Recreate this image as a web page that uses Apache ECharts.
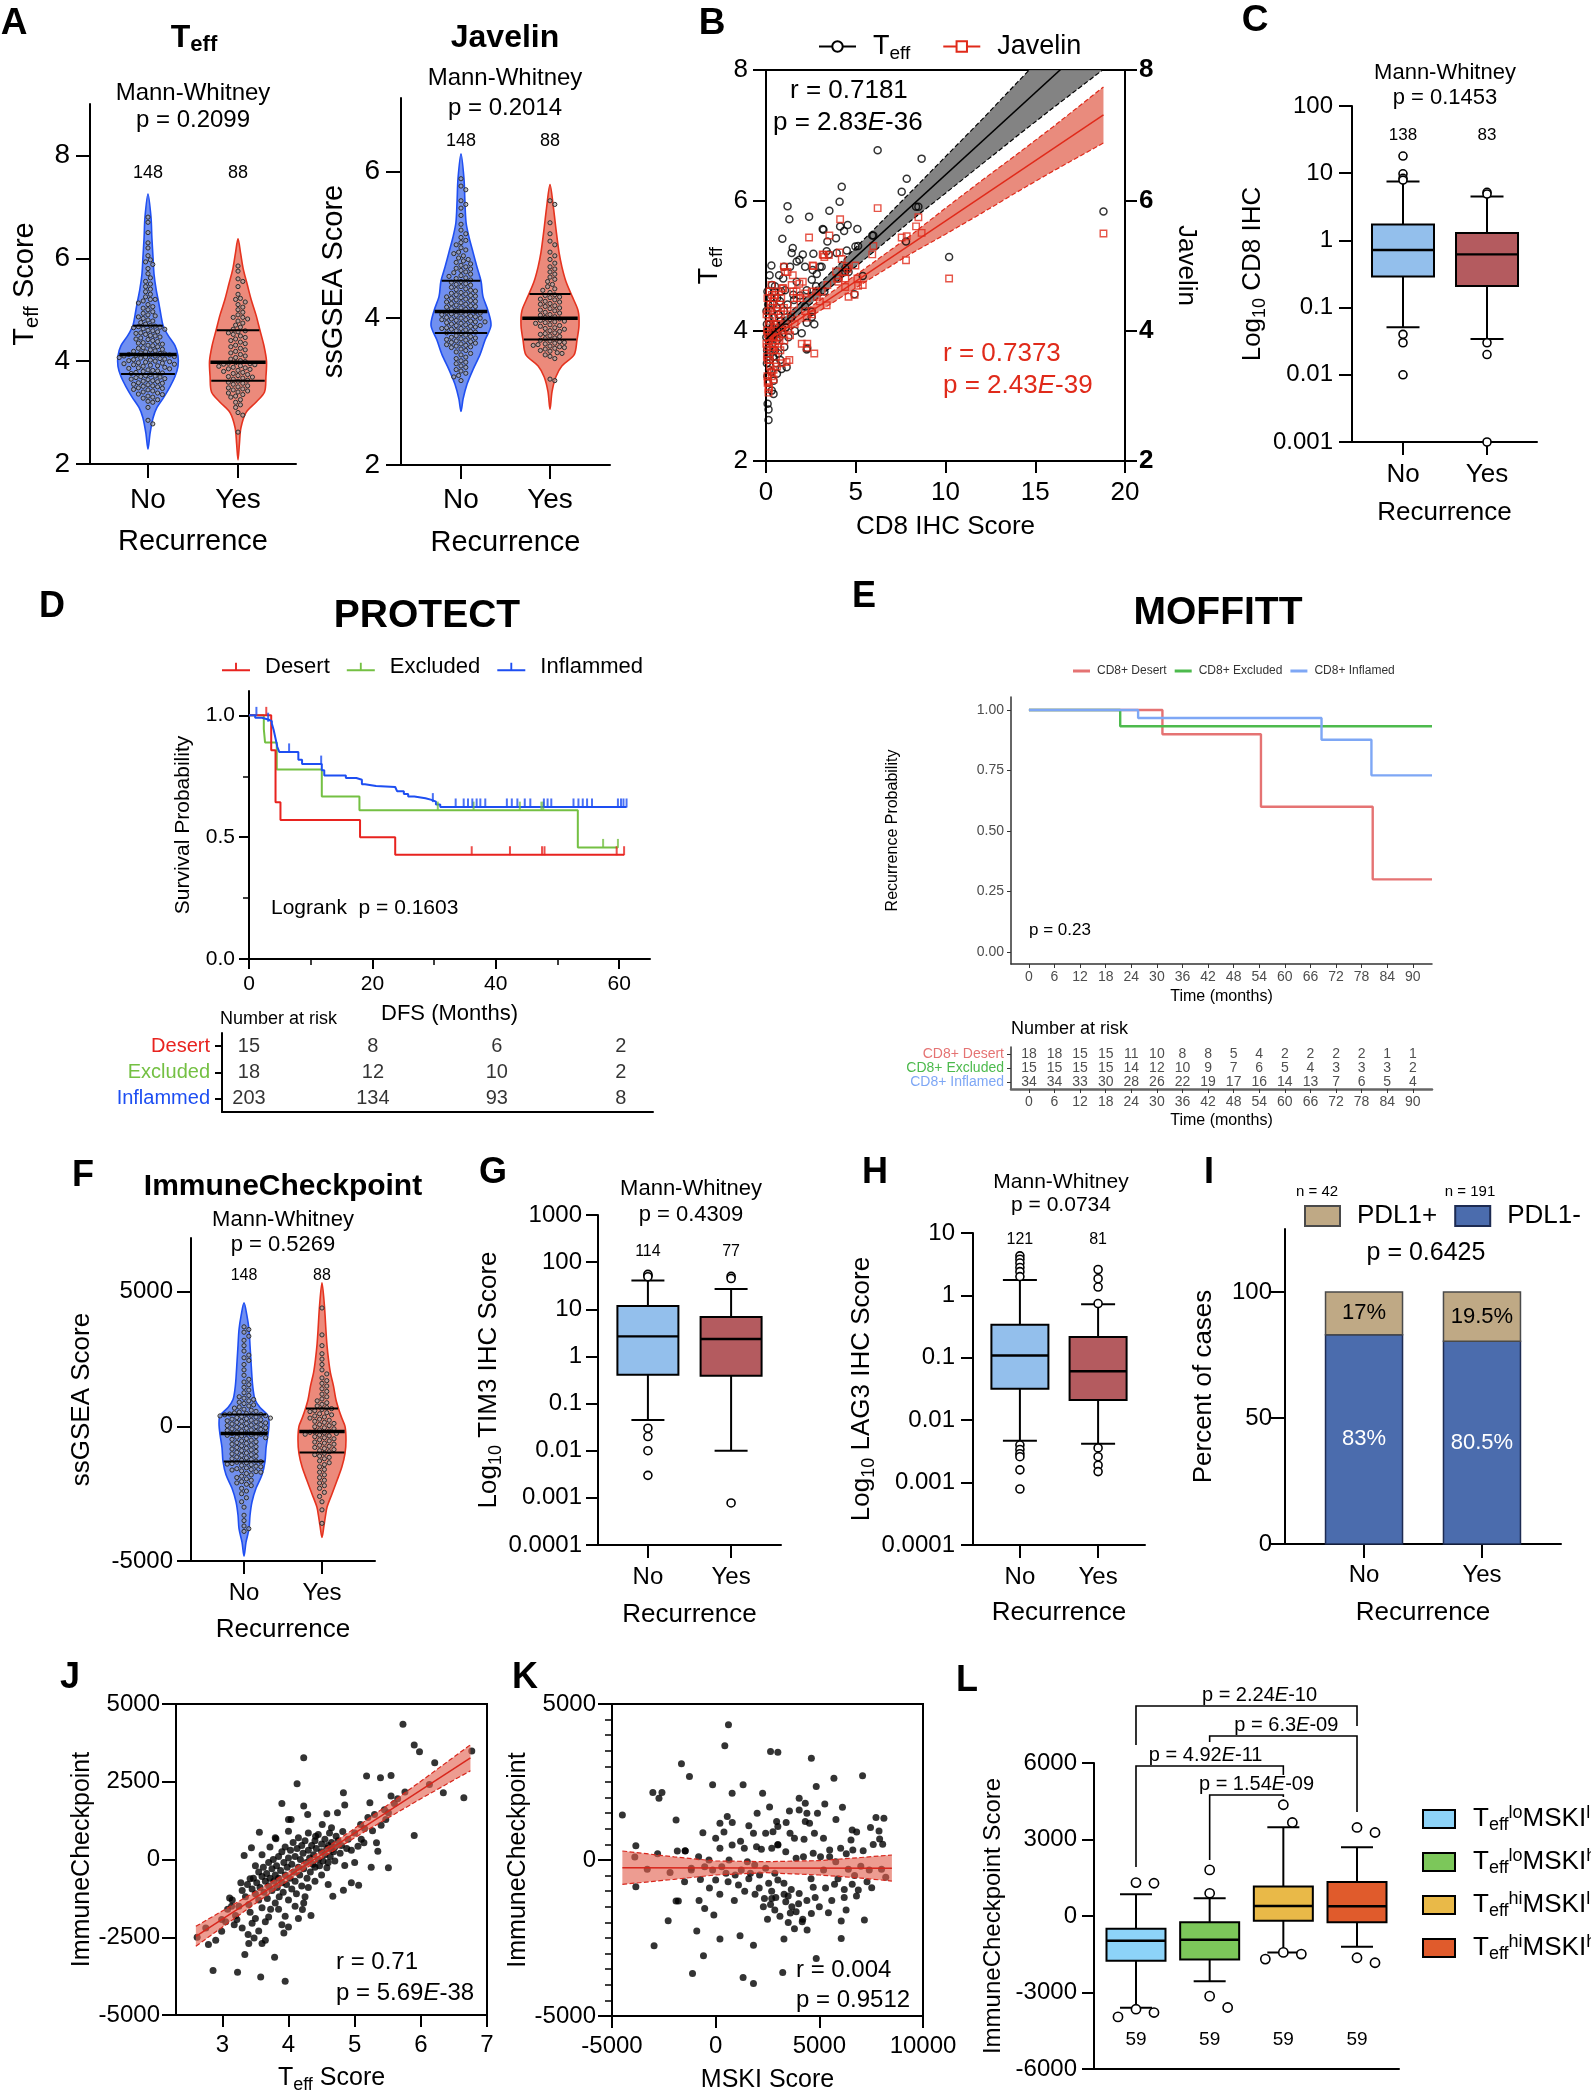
<!DOCTYPE html>
<html>
<head>
<meta charset="utf-8">
<title>Figure</title>
<script src="https://cdn.jsdelivr.net/npm/echarts@6.0.0/dist/echarts.min.js"></script>
<style>
html,body{margin:0;padding:0;background:#ffffff;}
#chart{width:1591px;height:2100px;}
</style>
</head>
<body>
<div id="chart"></div>
<script>
const FONT = '"Liberation Sans", Arial, Helvetica, sans-serif';

// ======================= DATA =======================
const recurrence = ['No', 'Yes'];

// ---- Panel A : Teff violins ----
const teffNo = [2.78,2.85,3.1,3.2,3.22,3.25,3.28,3.3,3.32,3.35,3.36,3.38,3.4,3.42,3.44,3.45,3.47,3.48,3.5,3.51,3.52,3.54,3.55,3.57,3.58,3.6,3.61,3.62,3.64,3.65,3.66,3.68,3.69,3.7,3.71,3.72,3.74,
3.76,3.77,3.78,3.8,3.81,3.82,3.83,3.85,3.86,3.87,3.88,3.9,3.91,3.92,3.93,3.94,3.95,3.96,3.97,3.98,3.99,4.0,4.01,4.02,4.03,4.04,4.05,4.06,4.07,4.08,4.09,4.1,4.1,4.11,4.12,4.12,4.13,
4.14,4.15,4.16,4.18,4.19,4.2,4.22,4.23,4.25,4.26,4.28,4.3,4.31,4.33,4.35,4.36,4.38,4.4,4.42,4.43,4.45,4.47,4.49,4.5,4.52,4.54,4.55,4.57,4.59,4.6,4.62,4.63,4.65,4.66,4.67,4.68,4.69,
4.72,4.75,4.78,4.8,4.83,4.86,4.88,4.9,4.93,4.96,5.0,5.03,5.06,5.1,5.13,5.17,5.2,5.2,5.25,5.3,5.35,5.4,5.45,5.5,5.55,5.62,5.7,5.8,5.88,5.93,5.97,6.05,6.2,6.3,6.5,6.7,6.8];
const teffYes = [2.62,2.95,3.0,3.1,3.15,3.2,3.25,3.3,3.32,3.35,3.38,3.4,3.42,3.44,3.46,3.48,3.5,3.52,3.55,3.57,3.59,3.61,
3.63,3.65,3.67,3.69,3.7,3.72,3.74,3.76,3.78,3.8,3.82,3.84,3.85,3.87,3.88,3.9,3.91,3.93,3.94,3.95,3.96,3.97,
3.99,4.01,4.04,4.07,4.1,4.13,4.16,4.19,4.22,4.25,4.28,4.31,4.34,4.37,4.4,4.43,4.46,4.49,4.52,4.55,4.57,4.59,
4.62,4.66,4.7,4.74,4.78,4.82,4.85,4.85,4.9,4.95,5.0,5.05,5.1,5.15,5.2,5.22,5.3,5.45,5.55,5.6,5.75,5.85];
const teffNoQuartiles = [3.75, 4.13, 4.69];
const teffYesQuartiles = [3.62, 3.98, 4.60];
const teffNoDensity = [[2.29,0],[2.6,0.07],[2.9,0.17],[3.1,0.3],[3.3,0.53],[3.5,0.73],[3.7,0.9],[3.9,1],[4.1,1],[4.3,0.9],[4.5,0.67],[4.7,0.5],[4.9,0.43],[5.1,0.37],[5.4,0.27],[5.7,0.2],[6.0,0.17],[6.4,0.13],[6.8,0.1],[7.25,0]];
const teffYesDensity = [[2.08,0],[2.4,0.05],[2.7,0.1],[3.0,0.28],[3.2,0.63],[3.4,0.93],[3.7,0.98],[4.0,1],[4.3,0.91],[4.6,0.77],[4.9,0.63],[5.2,0.46],[5.5,0.32],[5.8,0.18],[6.1,0.09],[6.38,0]];
const teffCounts = [148, 88];

// ---- Panel A : Javelin violins ----
const javNo = [3.15,3.2,3.22,3.25,3.28,3.3,3.33,3.35,3.38,3.4,3.42,3.45,3.47,3.5,3.52,3.54,3.56,3.58,3.6,3.61,3.62,3.63,3.64,3.65,3.66,3.67,3.68,3.69,3.7,3.71,3.72,3.73,3.74,3.75,3.76,3.77,3.79,
3.8,3.81,3.82,3.83,3.84,3.85,3.86,3.86,3.87,3.88,3.89,3.9,3.9,3.91,3.92,3.93,3.94,3.95,3.95,3.96,3.97,3.98,3.98,3.99,4.0,4.0,4.01,4.02,4.03,4.04,4.05,4.05,4.06,4.07,4.07,4.08,4.09,
4.1,4.11,4.12,4.13,4.14,4.15,4.16,4.17,4.18,4.19,4.2,4.21,4.22,4.23,4.24,4.25,4.26,4.27,4.28,4.29,4.3,4.31,4.32,4.33,4.34,4.35,4.37,4.38,4.39,4.4,4.42,4.43,4.45,4.46,4.47,4.49,4.5,
4.52,4.54,4.55,4.57,4.58,4.6,4.62,4.63,4.65,4.67,4.68,4.7,4.72,4.74,4.76,4.78,4.8,4.82,4.85,4.88,4.9,4.93,4.96,5.0,5.03,5.06,5.1,5.15,5.2,5.28,5.4,5.5,5.55,5.6,5.75,5.8,5.9];
const javYes = [3.15,3.17,3.45,3.48,3.5,3.52,3.53,3.55,3.56,3.58,3.59,3.6,3.61,3.62,3.63,3.64,3.65,3.66,3.67,3.68,3.69,3.7,
3.72,3.73,3.75,3.76,3.78,3.79,3.8,3.82,3.83,3.85,3.86,3.87,3.89,3.9,3.91,3.93,3.94,3.95,3.96,3.97,3.98,3.99,
4.01,4.02,4.04,4.05,4.07,4.08,4.1,4.11,4.13,4.14,4.16,4.17,4.19,4.2,4.22,4.23,4.25,4.26,4.28,4.29,4.31,4.32,
4.35,4.38,4.4,4.43,4.46,4.5,4.53,4.56,4.6,4.63,4.67,4.7,4.75,4.8,4.85,4.9,5.0,5.05,5.15,5.3,5.55,5.6];
const javNoQuartiles = [3.80, 4.09, 4.51];
const javYesQuartiles = [3.71, 4.00, 4.33];
const javNoDensity = [[2.73,0],[2.9,0.07],[3.1,0.2],[3.3,0.4],[3.5,0.63],[3.7,0.8],[3.9,1],[4.1,0.9],[4.3,0.73],[4.5,0.67],[4.7,0.53],[4.9,0.4],[5.1,0.27],[5.3,0.17],[5.6,0.13],[5.9,0.1],[6.24,0]];
const javYesDensity = [[2.76,0],[3.0,0.07],[3.2,0.2],[3.35,0.41],[3.5,0.83],[3.7,0.93],[3.9,1],[4.1,0.97],[4.3,0.76],[4.5,0.55],[4.7,0.41],[4.9,0.31],[5.2,0.21],[5.5,0.12],[5.82,0]];
const javCounts = [148, 88];

// ---- Panel B : [CD8 IHC score, Teff, Javelin] ----
const bPoints = [[0.02,3.9,3.8],[0.03,4.3,4.25],[0.05,3.5,3.6],[0.05,4.1,4.0],[0.06,3.7,3.75],[0.08,4.6,4.5],[0.08,3.3,3.3],[0.09,2.88,3.2],[0.1,4.0,3.95],[0.1,3.6,3.55],
[0.12,4.4,4.3],[0.12,3.2,3.23],[0.14,2.79,3.1],[0.14,2.63,3.05],[0.15,3.85,3.9],[0.15,4.2,4.1],[0.17,3.4,3.13],[0.18,3.95,3.85],[0.2,4.85,4.6],[0.2,3.75,3.55],
[0.22,4.1,4.15],[0.22,3.55,3.45],[0.25,4.5,4.4],[0.25,3.65,3.7],[0.28,3.9,3.98],[0.3,5.0,4.7],[0.3,4.3,4.35],[0.3,3.37,3.37],[0.32,3.08,3.3],[0.33,4.7,4.55],
[0.35,3.8,3.75],[0.35,4.05,4.2],[0.38,4.4,4.45],[0.4,3.6,3.7],[0.42,3.23,3.4],[0.42,3.03,3.25],[0.45,4.2,4.1],[0.45,3.95,3.9],[0.48,4.6,4.5],[0.5,4.68,4.55],
[0.5,3.7,3.8],[0.52,4.1,4.05],[0.55,3.5,3.6],[0.58,4.35,4.3],[0.6,3.85,3.9],[0.61,3.34,3.45],[0.62,4.5,4.35],[0.65,4.0,4.1],[0.68,3.65,3.75],[0.7,4.25,4.2],
[0.73,4.85,4.6],[0.75,3.9,3.85],[0.78,4.45,4.4],[0.8,3.55,3.7],[0.82,4.15,4.25],[0.85,4.6,4.5],[0.87,3.41,3.5],[0.9,3.95,4.0],[0.91,5.41,4.65],[0.96,4.8,4.65],
[1.0,4.3,4.35],[1.0,4.98,4.98],[1.02,3.75,3.85],[1.06,4.62,4.9],[1.1,4.05,4.1],[1.15,3.44,3.52],[1.2,5.91,4.9],[1.2,4.4,4.3],[1.25,3.9,4.0],[1.3,5.71,3.55],
[1.34,4.98,3.93],[1.4,4.2,4.25],[1.43,5.19,4.7],[1.49,5.27,4.85],[1.52,4.55,4.6],[1.56,4.47,4.4],[1.6,4.0,4.1],
[1.71,5.06,4.5],[1.71,4.75,4.6],[1.86,5.09,4.72],[1.9,4.54,4.5],[1.99,3.96,3.8],[2.05,5.17,4.75],[2.18,4.98,4.57],[2.18,4.37,4.3],[2.27,4.62,4.5],[2.27,4.12,4.2],
[2.27,3.71,3.74],[2.3,3.73,3.8],[2.4,5.75,5.43],[2.55,4.78,4.6],[2.55,4.29,4.3],[2.55,4.21,4.25],[2.6,4.93,5.0],[2.64,5.18,4.99],[2.69,4.1,3.65],[2.79,4.68,4.6],
[2.83,4.87,4.52],[3.0,4.98,4.45],[3.1,4.98,4.6],[3.16,5.56,5.17],[3.2,5.55,5.16],[3.25,4.6,5.13],[3.38,5.22,4.39],[3.42,5.37,4.7],[3.5,5.17,5.16],[3.53,5.84,5.46],
[3.9,5.42,4.91],[3.94,5.19,4.8],[4.03,4.8,4.75],[4.1,5.98,5.2],[4.13,5.6,5.71],[4.22,6.21,5.1],[4.35,5.53,4.9],[4.41,4.9,4.67],[4.42,4.96,4.8],[4.5,5.23,4.99],
[4.55,5.62,4.95],[4.6,4.9,4.52],[4.93,4.56,4.55],[4.98,5.29,5.0],[5.09,5.56,4.8],[5.13,5.3,4.69],[5.39,4.84,4.7],[5.92,5.46,5.17],[5.98,5.46,5.3],[6.22,6.77,5.88],
[7.56,6.13,5.43],[7.8,5.37,5.08],[7.84,6.33,5.45],[8.36,5.9,5.6],[8.49,5.9,5.74],[8.67,6.64,5.5],[10.2,5.13,4.8],[18.8,5.83,5.49]];
const bTeffFit = [[0,3.87],[18.8,8.61]];
const bTeffBand = [[0,3.80,3.94],[2,4.29,4.45],[4,4.76,5.0],[6,5.21,5.55],[8,5.67,6.11],[10,6.11,6.67],[12,6.55,7.23],[14,6.99,7.81],[16,7.42,8.38],[18.8,8.01,9.21]];
const bJavFit = [[0,3.83],[18.8,7.31]];
const bJavBand = [[0,3.77,3.89],[2,4.13,4.27],[4,4.48,4.66],[6,4.83,5.05],[8,5.17,5.45],[10,5.48,5.88],[12,5.8,6.3],[14,6.13,6.71],[16,6.45,7.13],[18.8,6.88,7.74]];
const bTeffStats = ['r = 0.7181', 'p = 2.83', '-36'];
const bJavStats = ['r = 0.7373', 'p = 2.43', '-39'];

// ---- Panel C : CD8 IHC boxplots [low, q1, median, q3, high] ----
const cBoxes = [[0.051,0.29,0.72,1.73,7.5],[0.034,0.21,0.62,1.29,4.5]];
const cOutliers = [[1,18],[1,9.8],[1,8.4],[1,7.9],[1,0.04],[1,0.03],[1,0.01],[2,5.2],[2,4.9],[2,0.03],[2,0.02],[2,0.001]];
const cCounts = [138, 83];

// ---- Panel D : PROTECT KM ----
const dGroups = ['Desert','Excluded','Inflammed'];
const dDesert = [[0,1],[3.6,0.857],[4.3,0.643],[5.1,0.571],[18.0,0.5],[23.7,0.428],[60.8,0.428]];
const dExcluded = [[0,1],[2.4,0.944],[2.6,0.889],[4.5,0.778],[11.8,0.667],[17.9,0.611],[53.3,0.458],[59.8,0.458]];
const dInflammed = [[0,1],[1.0,0.99],[2.1,0.983],[3.1,0.976],[3.7,0.966],[4.0,0.94],[4.3,0.905],[4.6,0.87],[4.9,0.85],[8.0,0.818],[8.6,0.8],[11.8,0.775],[12.2,0.753],[15.7,0.743],[17.4,0.736],[18.3,0.717],[18.8,0.71],[20.6,0.706],[23.7,0.7],[24.0,0.689],[25.1,0.677],[25.8,0.667],[26.8,0.66],[28.6,0.653],[29.6,0.646],[30.3,0.634],[31.0,0.624],[61.2,0.624]];
const dDesertCensor = [[2.8,1],[36.1,0.428],[42.3,0.428],[47.5,0.428],[47.9,0.428],[59.6,0.428],[60.8,0.428]];
const dExcludedCensor = [[30.6,0.611],[36.4,0.611],[43.9,0.611],[47.4,0.611],[47.7,0.611],[57.4,0.458],[59.8,0.458]];
const dInflammedCensor = [[1.2,1],[3.1,0.976],[6.5,0.85],[11.7,0.8],[29.8,0.646],[33.5,0.624],[34.8,0.624],[35.5,0.624],[36.2,0.624],[36.9,0.624],[37.5,0.624],[38.3,0.624],[41.8,0.624],[42.6,0.624],[43.5,0.624],[44.7,0.624],[45.6,0.624],[47.8,0.624],[48.4,0.624],[49.0,0.624],[52.6,0.624],[53.4,0.624],[54.1,0.624],[54.8,0.624],[55.6,0.624],[59.8,0.624],[60.3,0.624],[60.7,0.624],[61.2,0.624]];
const dRiskTimes = [0,20,40,60];
const dRisk = [[15,8,6,2],[18,12,10,2],[203,134,93,8]];

// ---- Panel E : MOFFITT KM ----
const eGroups = ['CD8+ Desert','CD8+ Excluded','CD8+ Inflamed'];
const eDesert = [[0,1],[31.3,0.9],[54.4,0.6],[80.6,0.3],[94.5,0.3]];
const eExcluded = [[0,1],[21.4,0.933],[94.5,0.933]];
const eInflamed = [[0,1],[25.6,0.967],[68.6,0.877],[80.3,0.73],[94.5,0.73]];
const eRiskTimes = [0,6,12,18,24,30,36,42,48,54,60,66,72,78,84,90];
const eRisk = [[18,18,15,15,11,10,8,8,5,4,2,2,2,2,1,1],
               [15,15,15,15,14,12,10,9,7,6,5,4,3,3,3,2],
               [34,34,33,30,28,26,22,19,17,16,14,13,7,6,5,4]];
const eYTicks = [0,0.25,0.5,0.75,1];

// ---- Panel F : ImmuneCheckpoint violins ----
const icNo = [-3900,-3800,-3700,-3500,-3300,-3000,-2800,-2650,-2500,-2400,-2300,-2200,-2150,-2100,-2050,-2000,-1950,-1900,-1850,-1800,-1750,-1700,-1680,-1650,-1620,-1600,-1570,-1540,-1500,-1480,-1450,-1420,-1400,-1380,-1350,-1330,-1310,
-1290,-1260,-1230,-1200,-1170,-1140,-1110,-1080,-1050,-1020,-990,-960,-930,-900,-870,-840,-810,-780,-750,-720,-690,-660,-630,-600,-570,-540,-510,-480,-450,-420,-400,-380,-350,-330,-310,-290,-270,
-250,-230,-210,-190,-170,-150,-130,-110,-90,-70,-50,-30,-10,10,30,50,70,90,110,130,150,170,190,210,230,250,270,290,310,330,350,370,390,400,415,430,445,
460,480,500,530,560,600,640,680,720,760,800,850,900,950,1000,1050,1100,1150,1250,1350,1450,1550,1650,1750,1900,2100,2300,2450,2550,2650,2800,3000,3200,3350,3500,3600,3700];
const icYes = [-3600,-3100,-2800,-2600,-2450,-2300,-2200,-2100,-2000,-1900,-1800,-1700,-1600,-1500,-1420,-1350,-1280,-1200,-1150,-1100,-1050,-1000,
-940,-900,-860,-820,-780,-740,-700,-660,-620,-580,-540,-500,-460,-420,-380,-350,-320,-290,-260,-240,-220,-200,
-170,-130,-90,-50,-10,30,70,110,150,190,230,270,310,350,390,430,470,510,550,590,630,660,
700,760,820,880,950,1020,1100,1200,1300,1400,1500,1600,1700,1800,1950,2100,2300,2500,2700,3000,3400,4400];
const icNoQuartiles = [-1301, -260, 446];
const icYesQuartiles = [-967, -186, 669];
const icNoDensity = [[-4814,0],[-4300,0.08],[-3800,0.2],[-3300,0.24],[-2800,0.32],[-2300,0.48],[-1800,0.72],[-1300,0.84],[-800,0.88],[-300,0.96],[100,1],[400,0.96],[700,0.64],[1000,0.44],[1400,0.36],[1800,0.32],[2400,0.28],[3000,0.24],[3600,0.2],[4100,0.12],[4591,0]];
const icYesDensity = [[-4126,0],[-3700,0.08],[-3300,0.15],[-3000,0.21],[-2500,0.42],[-2000,0.63],[-1500,0.83],[-1000,0.96],[-500,1],[0,0.96],[300,0.83],[600,0.71],[1000,0.58],[1500,0.48],[2000,0.35],[2500,0.27],[3000,0.21],[3500,0.17],[4500,0.1],[5335,0]];
const icCounts = [148, 88];

// ---- Panel G : TIM3 ----
const gBoxes = [[0.045,0.41,2.66,11.8,40.7],[0.01,0.39,2.34,6.9,27]];
const gOutliers = [[1,52],[1,55],[1,49],[1,0.03],[1,0.02],[1,0.01],[1,0.003],[2,50],[2,45],[2,0.00078]];
const gCounts = [114, 77];

// ---- Panel H : LAG3 ----
const hBoxes = [[0.0047,0.032,0.109,0.34,1.76],[0.0042,0.021,0.061,0.215,0.72]];
const hOutliers = [[1,4.3],[1,3.8],[1,3.3],[1,2.8],[1,2.4],[1,2.0],[1,0.0040],[1,0.0034],[1,0.0029],[1,0.0026],[1,0.0016],[1,0.00079],
                   [2,2.6],[2,1.85],[2,1.36],[2,0.74],[2,0.0036],[2,0.0026],[2,0.0019],[2,0.0015]];
const hCounts = [121, 81];

// ---- Panel I : PDL1 ----
const pdl1Pos = [17, 19.5];
const pdl1Neg = [83, 80.5];
const pdl1N = ['n = 42', 'n = 191'];

// ---- Panel J : [Teff score, ImmuneCheckpoint] ----
const jPoints = [[5.73,4345],[5.9,3680],[5.98,3466],[6.21,3112],[6.77,3487],[6.65,1985],[6.34,2146],[6.13,2414],[5.9,773],[5.18,2682],[5.39,2629],[5.55,2704],[4.23,3272],[4.13,2436],[3.9,1802],[4.0,1288],[4.83,2146],[4.85,1749],[4.23,1717],[4.29,1449],[4.58,1470],[4.74,1502],[3.56,880],[3.44,375],[3.33,129],[3.81,665],[4.0,912],[4.04,1288],
[2.62,-2500],[2.79,-2736],[2.86,-3573],[3.23,-3627],[3.58,-3777],[3.95,-3916],[3.79,-3144],[3.34,-3058],[3.6,-2704],[3.48,-2521],[3.39,-2414],[3.22,-1931],[3.14,-1502],[2.99,-2307],[2.99,-1931],[3.11,-1234],[3.28,-751],[3.42,-622],[3.93,-2360],[4.0,-2167],[3.95,-1824],[4.34,-1803],[4.21,-1609],[4.23,-1395],[4.67,-1180],[4.83,-987],[4.95,-751],[5.06,-826],[5.25,-247],[5.51,-268],[4.85,-193],[4.58,-268],[4.65,322],[4.72,751],[5.05,429],[5.14,536],[5.33,536],[5.35,268],[5.09,1127],[5.27,923],[5.47,1288],[5.51,1502],[5.23,1824],[5.55,2039],[5.65,1953],[5.76,2167],[4.51,1127],[4.41,751],[4.65,1019],
[3.3,-1000],[3.35,-1200],[3.38,-800],[3.4,-1450],[3.42,-1700],[3.45,-950],[3.47,-600],[3.5,-1100],[3.5,-1900],[3.52,-750],[3.55,-400],[3.55,-1300],[3.57,-900],[3.6,-550],[3.6,-1550],[3.62,-250],[3.63,-1050],[3.65,-700],[3.65,-2000],[3.67,-450],[3.68,-1250],[3.7,-100],[3.7,-850],[3.72,-600],[3.73,-1600],[3.75,-300],[3.75,-1000],[3.77,0],[3.78,-700],[3.8,-500],[3.8,-1400],[3.82,-200],[3.83,-900],[3.85,100],[3.85,-600],[3.86,-1200],[3.88,-350],[3.9,-750],[3.9,250],[3.92,-1050],[3.93,-100],[3.95,-500],[3.95,400],[3.97,-800],[3.98,-250],[4.0,50],[4.0,-1300],[4.02,-600],[4.03,300],[4.05,-150],[4.05,-950],[4.07,550],[4.08,-400],[4.1,100],[4.1,-700],[4.12,-1100],[4.13,350],[4.15,-250],[4.15,700],[4.17,-500],[4.18,0],[4.2,-850],[4.2,450],[4.22,200],[4.23,-300],[4.25,600],[4.27,-100],[4.28,-600],[4.3,300],[4.3,850],[4.32,50],[4.33,-400],[4.35,450],[4.37,-150],[4.38,150],[4.4,600],[4.4,-250],[4.42,350],[4.45,0],[4.45,800],[4.47,-200],[4.5,250],[4.5,500],[4.52,-50],[4.55,650],[4.55,150],[4.58,350],[4.6,-100],[4.6,450],[4.62,850],[4.63,100],[4.65,550],[4.68,250],[4.7,400],[4.7,-50],[4.75,600],[4.78,200],[4.8,450],[4.82,900],[4.88,350],[4.9,650],[4.95,300],[5.0,850],[5.0,-100],[5.1,650],[5.15,1000],[5.2,1350],[5.3,1450],[5.4,1100],[5.45,1600],[5.6,1800],
[3.25,-1500],[3.2,-1800],[3.18,-2100],[3.3,-2200],[3.4,-2700],[3.15,-1300],[3.08,-1600],[3.05,-2000],[3.45,-2050],[3.55,-2300],[3.7,-1850],[3.85,-1600],[3.9,-2100],[4.1,-1500],[4.15,-1900],[4.25,-1200],[4.3,-900],[4.4,-700],[4.5,-500],[4.6,-800],[3.5,-200],[3.6,150],[3.72,400],[3.8,700],[3.65,-2600],[2.75,-2200],[2.9,-2600]];
const jFit = [[2.6,-2468],[6.75,3271]];
const jBand = [[2.6,-2788,-2148],[3.0,-2175,-1655],[3.5,-1413,-1033],[4.0,-672,-392],[4.3,-237,3],[4.6,178,418],[5.0,701,1001],[5.5,1333,1753],[6.0,1954,2514],[6.5,2556,3296],[6.75,2851,3691]];
const jStats = ['r = 0.71', 'p = 5.69', '-38'];
const jXTicks = [3,4,5,6,7];

// ---- Panel K : [MSKI score, ImmuneCheckpoint] ----
const kPoints = [[-4500,1445],[-3850,460],[-3850,-856],[-3030,2161],[-2735,1980],[-2590,2161],[-2970,-2750],[-2290,-1947],[-1910,1284],[-1910,-1316],[-1800,-1316],[-1650,3082],[-1265,2675],[-1850,289],[-1470,289],[-1176,-268],[-1117,-3638],[-911,-2279],[-735,-621],[-617,877],[-588,-3071],[-530,-1552],[-147,2408],[-88,-1766],[206,1177],[206,-2536],[441,3659],[559,1391],[617,4333],[794,2140],[1323,2408],[1323,-3766],[1823,-3959],[1176,-2429],[1823,-2729],[2352,-1231],[2264,2140],[2646,3478],[2999,3456],[2940,1230],[3234,-3606],[3293,-2536],[4028,1980],[4322,1819],[4616,3264],[4851,2354],[4851,-3157],[4763,856],[5263,1798],[4910,1498],[5704,2622],[5498,321],[6115,1691],[6056,-2515],[6585,963],[7085,2697],[7173,-1926],[7467,1038],[7732,1359],[7879,931],[7908,674],[8114,1338],[8055,503],[8202,-556],[7526,-888],[6879,-963],[6585,-781],[6203,-942],[6291,-1605],[6791,-1156],[6056,-1958],[5733,-781],[5439,-1691],[5204,-321],[5057,107],[4704,214],[4704,-877],[4616,-1712],[4410,-2247],[4175,-1980],[3881,-1659],[4028,-1070],[3646,-942],[3293,-749],[3499,-1156],[3675,-1498],[3381,-1338],[2999,-642],[2705,-1231],[2852,-428],[2411,-268],[2117,-482],[2558,-749],[2646,-1423],[2852,-1605],[1676,-428],[1882,-160],[1529,-54],[1235,-321],[941,-482],[500,-428],[647,0],[294,-214],[0,-642],[-147,-321],[-323,0],[-530,-214],[-823,107],[-1176,-321],[-1470,300],[206,375],[794,482],[1382,375],[1970,428],[2205,342],[2705,375],[2999,482],[3381,268],[3881,54],[4234,107],[5498,107],[5792,-54],[6027,375],[6527,642],[6615,321],[7114,300],[7408,-321],[1823,856],[2411,856],[2764,909],[3587,856],[2999,1070],[4263,663],[4322,1230],[3558,1573],[4028,1605],[4528,1177],
[-300,-900],[200,-1100],[600,-700],[900,-1300],[1100,-800],[1400,-1000],[1600,-600],[1900,-1100],[2100,-900],[2300,-1500],[2500,-1900],[2700,-1000],[2900,-1200],[3100,-1800],[3300,-1100],[3500,-2000],[3600,-1700],[3800,-2200],[4000,-1400],[4200,-1900],[4400,-1300],[4600,-600],[4800,-1200],[5000,-1500],[5300,-900],[5600,-1300],[5900,-600],[6200,-1200],[6400,-300],[6700,-500],[7000,-200],[7300,-700],[-800,-1300],[-1500,-700],[-2200,-400],[-2800,200],[-3300,-300],[-3900,100],[0,700],[400,900],[800,1200],[1200,600],[1600,1100],[2000,1500],[2600,1700],[3000,500],[3400,1200],[3800,700],[4400,1500],[5200,700],[5800,1300],[6300,200],[6800,900],[7600,500],[8000,-300]];
const kFit = [[-4500,-246],[8500,-268]];
const kBand = [[-4500,-781,289],[-2000,-620,100],[0,-480,-30],[2400,-407,-54],[5000,-480,-20],[7000,-580,80],[8500,-675,161]];
const kStats = ['r = 0.004', 'p = 0.9512'];

// ---- Panel L : ImmuneCheckpoint by group ----
const lGroups = ['Teff lo MSKI lo','Teff lo MSKI hi','Teff hi MSKI lo','Teff hi MSKI hi'];
const lBoxes = [[-3600,-1755,-969,-498,852],[-2555,-1703,-930,-249,694],[-1428,-183,393,1153,3485],[-1205,-249,380,1336,2699]];
const lOutliers = [[1310,1284,-3956,-3655,-3786],[1808,891,-3144,-3589],[4362,3668,-1428,-1690,-1493],[3275,3472,-1834,-1638]];
const lCounts = [59,59,59,59];
const lComparisons = [[1,4,'p = 2.24','-10'],[2,4,'p = 6.3','-09'],[1,3,'p = 4.92','-11'],[2,3,'p = 1.54','-09']];

// ======================= HELPERS =======================
const option = {animation:false, backgroundColor:'#ffffff', textStyle:{fontFamily:FONT},
  grid:[], xAxis:[], yAxis:[], series:[], legend:[], graphic:[]};

function merge(a, b) {
  for (const k in b) {
    const bv = b[k];
    if (bv && typeof bv === 'object' && !Array.isArray(bv) && a[k] && typeof a[k] === 'object' && !Array.isArray(a[k])) {
      a[k] = merge(Object.assign({}, a[k]), bv);
    } else a[k] = bv;
  }
  return a;
}
function G(left, top, width, height, extra) {
  option.grid.push(Object.assign({left, top, width, height, containLabel:false, outerBoundsMode:'none'}, extra || {}));
  return option.grid.length - 1;
}
function axisBase() {
  return {type:'value',
    axisLine:{show:true, onZero:false, lineStyle:{color:'#000', width:2}},
    axisTick:{show:true, length:13, lineStyle:{color:'#000', width:2}},
    axisLabel:{show:true, color:'#000', fontFamily:FONT, fontSize:24, margin:16},
    splitLine:{show:false}, minorSplitLine:{show:false},
    nameLocation:'middle', nameTextStyle:{color:'#000', fontFamily:FONT, fontSize:26}};
}
function finishAxis(ax) {
  if (ax.type === 'value' && !ax.axisLabel.formatter) ax.axisLabel.formatter = v => String(+v);
  return ax;
}
function X(o) { option.xAxis.push(finishAxis(merge(axisBase(), o))); return option.xAxis.length - 1; }
function Y(o) { option.yAxis.push(finishAxis(merge(axisBase(), o))); return option.yAxis.length - 1; }
function catX(grid, min, max, cats, o) {
  const vals = cats.map((c, i) => i + 1);
  return X(merge({gridIndex:grid, min, max,
    axisLabel:{customValues:vals, formatter:v => cats[Math.round(v) - 1]},
    axisTick:{customValues:vals}}, o || {}));
}
function logFmt(v) { return v >= 1 ? String(Math.round(v)) : String(+(+v).toPrecision(1)); }
function subRich(big, small, weight) {
  return {a:{fontSize:big, fontFamily:FONT, fontWeight:weight || 'normal', color:'#000', fill:'#000', lineHeight:big + 6},
          s:{fontSize:small, fontFamily:FONT, fontWeight:weight || 'normal', color:'#000', fill:'#000', lineHeight:12, verticalAlign:'bottom'}};
}
function T(x, y, text, o) {
  const st = Object.assign({text, fill:'#000', fontFamily:FONT, fontSize:22, fontWeight:'normal', align:'center', verticalAlign:'middle'}, o || {});
  st.textAlign = st.align; st.textVerticalAlign = st.verticalAlign;
  option.graphic.push({type:'text', x, y, silent:true, z:100, style:st});
}
function pRich(size, color) {
  return {n:{fontSize:size, fontFamily:FONT, fill:color, color:color},
          i:{fontSize:size, fontFamily:FONT, fontStyle:'italic', fill:color, color:color}};
}
function interpW(dens, v) {
  for (let i = 1; i < dens.length; i++) {
    if (v <= dens[i][0]) { const a = dens[i-1], b = dens[i]; return a[1] + (b[1] - a[1]) * (v - a[0]) / (b[0] - a[0]); }
  }
  return 0;
}
function swarm(ys, d) {
  const order = ys.map((y, i) => [y, i]).sort((a, b) => a[0] - b[0]);
  const placed = []; const out = new Array(ys.length);
  for (const [y, i] of order) {
    let best = 0;
    for (let k = 0; k < 400; k++) {
      const off = k === 0 ? 0 : (k % 2 ? 1 : -1) * Math.ceil(k / 2) * d * 0.5;
      let ok = true;
      for (let j = placed.length - 1; j >= 0; j--) {
        const p = placed[j];
        if (y - p[1] >= d) break;
        const dx = off - p[0], dy = y - p[1];
        if (dx * dx + dy * dy < d * d * 0.98) { ok = false; break; }
      }
      if (ok) { best = off; break; }
    }
    placed.push([best, y]); out[i] = best;
  }
  return out;
}
function violin(xi, yi, cat, dens, quarts, pts, maxHW, fill, stroke) {
  option.series.push({type:'custom', xAxisIndex:xi, yAxisIndex:yi, silent:true, clip:false, z:3,
    data:[[cat, quarts[1]]],
    renderItem(params, api) {
      const cx = api.coord([cat, dens[0][0]])[0];
      const R = dens.map(d => [cx + d[1] * maxHW, api.coord([cat, d[0]])[1]]);
      const Lf = dens.slice(1, dens.length - 1).reverse().map(d => [cx - d[1] * maxHW, api.coord([cat, d[0]])[1]]);
      const kids = [{type:'polygon', shape:{points:R.concat(Lf), smooth:0.3}, style:{fill, stroke, lineWidth:1.6}}];
      const ys = pts.map(v => api.coord([cat, v])[1]);
      const offs = swarm(ys, 4.8);
      ys.forEach((y, i) => kids.push({type:'circle', shape:{cx:cx + offs[i], cy:y, r:2.1},
        style:{fill:'rgba(165,165,165,0.6)', stroke:'#2e2e2e', lineWidth:1}}));
      quarts.forEach((q, k) => {
        const w = interpW(dens, q) * maxHW * 0.97;
        const y = api.coord([cat, q])[1];
        kids.push({type:'line', shape:{x1:cx - w, y1:y, x2:cx + w, y2:y}, style:{stroke:'#000', lineWidth:k === 1 ? 3.5 : 2}});
      });
      return {type:'group', children:kids};
    }});
}
function boxes(xi, yi, items, fills, boxW, capW, name) {
  const s = {type:'custom', xAxisIndex:xi, yAxisIndex:yi, clip:false, silent:true, z:3,
    itemStyle:{color:fills[0], borderColor:'#000', borderWidth:1.5},
    data:items,
    renderItem(params, api) {
      const c = api.value(0);
      const p = [1,2,3,4,5].map(k => api.coord([c, api.value(k)]));
      const x = p[0][0];
      const fill = fills[params.dataIndex % fills.length];
      const ls = {stroke:'#000', lineWidth:2};
      return {type:'group', children:[
        {type:'line', shape:{x1:x, y1:p[4][1], x2:x, y2:p[3][1]}, style:ls},
        {type:'line', shape:{x1:x, y1:p[1][1], x2:x, y2:p[0][1]}, style:ls},
        {type:'line', shape:{x1:x - capW / 2, y1:p[4][1], x2:x + capW / 2, y2:p[4][1]}, style:ls},
        {type:'line', shape:{x1:x - capW / 2, y1:p[0][1], x2:x + capW / 2, y2:p[0][1]}, style:ls},
        {type:'rect', shape:{x:x - boxW / 2, y:p[3][1], width:boxW, height:p[1][1] - p[3][1]}, style:{fill, stroke:'#000', lineWidth:2}},
        {type:'line', shape:{x1:x - boxW / 2, y1:p[2][1], x2:x + boxW / 2, y2:p[2][1]}, style:{stroke:'#000', lineWidth:2.4}}
      ]};
    }};
  if (name) s.name = name;
  option.series.push(s);
}
function outliers(xi, yi, pts, size) {
  option.series.push({type:'scatter', xAxisIndex:xi, yAxisIndex:yi, silent:true, z:5, data:pts,
    symbol:'circle', symbolSize:size, itemStyle:{color:'#fff', borderColor:'#000', borderWidth:1.6, opacity:1}});
}
function counts(xi, yi, ns, yPx, size) {
  option.series.push({type:'custom', xAxisIndex:xi, yAxisIndex:yi, clip:false, silent:true, z:10,
    data:ns.map((n, i) => [i + 1, n]),
    renderItem(params, api) {
      const x = api.coord([api.value(0), api.value(1)])[0];
      return {type:'text', x, y:yPx, style:{text:String(api.value(1)), fontSize:size, fontFamily:FONT, fill:'#000',
        align:'center', verticalAlign:'middle', textAlign:'center', textVerticalAlign:'middle'}};
    }});
}
function band(xi, yi, rows, fill, z) {
  option.series.push({type:'custom', xAxisIndex:xi, yAxisIndex:yi, clip:true, silent:true, z:z || 2,
    data:[[rows[0][0], rows[0][1]]],
    renderItem(params, api) {
      const up = rows.map(r => api.coord([r[0], r[2]]));
      const lo = rows.slice().reverse().map(r => api.coord([r[0], r[1]]));
      return {type:'polygon', shape:{points:up.concat(lo)}, style:{fill, stroke:null}};
    }});
}
function lineS(xi, yi, data, color, width, type, extra) {
  option.series.push(Object.assign({type:'line', xAxisIndex:xi, yAxisIndex:yi, data, symbol:'none', silent:true,
    lineStyle:{color, width, type:type || 'solid'}, itemStyle:{color}, z:4}, extra || {}));
}
function stackBars(xi, yi, name, vals, bases, color, border, labelColor, barW) {
  option.series.push({type:'custom', name, xAxisIndex:xi, yAxisIndex:yi, clip:false, silent:true, z:3,
    itemStyle:{color, borderColor:border, borderWidth:1.5},
    data:vals.map((v, i) => [i + 1, bases[i], v]),
    renderItem(params, api) {
      const c = api.value(0), b = api.value(1), v = api.value(2);
      const p0 = api.coord([c, b]), p1 = api.coord([c, b + v]);
      return {type:'group', children:[
        {type:'rect', shape:{x:p0[0] - barW / 2, y:p1[1], width:barW, height:p0[1] - p1[1]}, style:{fill:color, stroke:border, lineWidth:1.5}},
        {type:'text', x:p0[0], y:(p0[1] + p1[1]) / 2, style:{text:v + '%', fontSize:22, fontFamily:FONT, fill:labelColor,
          align:'center', verticalAlign:'middle', textAlign:'center', textVerticalAlign:'middle'}}
      ]};
    }});
}

const blueFill = '#7190f0', blueStroke = '#1f4ff2', redFill = '#ec8a7b', redStroke = '#e5331f';

// ======================= PANEL A (Teff) =======================
T(14, 24, 'A', {fontSize:37, fontWeight:'bold'});
T(194, 38, '{a|T}{s|eff}', {rich:{a:{fontSize:32, fontWeight:'bold', fontFamily:FONT, fill:'#000', lineHeight:36}, s:{fontSize:22, fontWeight:'bold', fontFamily:FONT, fill:'#000', lineHeight:14, verticalAlign:'bottom'}}});
T(193, 93, 'Mann-Whitney', {fontSize:24});
T(193, 120, 'p = 0.2099', {fontSize:24});
const gA1 = G(90, 104, 206, 360);
const xA1 = catX(gA1, 0.356, 2.644, recurrence, {axisLabel:{fontSize:28, margin:22}, axisTick:{length:14},
  name:'Recurrence', nameGap:63, nameTextStyle:{fontSize:29}});
const yA1 = Y({gridIndex:gA1, min:2, max:9, axisLabel:{customValues:[2,4,6,8], fontSize:28, margin:20}, axisTick:{customValues:[2,4,6,8], length:14},
  name:'{a|T}{s|eff}{a| Score}', nameGap:48, nameTextStyle:{rich:subRich(29, 20)}});
violin(xA1, yA1, 1, teffNoDensity, teffNoQuartiles, teffNo, 30, blueFill, blueStroke);
violin(xA1, yA1, 2, teffYesDensity, teffYesQuartiles, teffYes, 28.5, redFill, redStroke);
counts(xA1, yA1, teffCounts, 173, 18);

// ======================= PANEL A (Javelin) =======================
T(505, 38, 'Javelin', {fontSize:32, fontWeight:'bold'});
T(505, 78, 'Mann-Whitney', {fontSize:24});
T(505, 108, 'p = 0.2014', {fontSize:24});
const gA2 = G(401, 98, 209, 367);
const xA2 = catX(gA2, 0.326, 2.674, recurrence, {axisLabel:{fontSize:28, margin:21}, axisTick:{length:14},
  name:'Recurrence', nameGap:63, nameTextStyle:{fontSize:29}});
const yA2 = Y({gridIndex:gA2, min:2, max:7, axisLabel:{customValues:[2,4,6], fontSize:28, margin:21}, axisTick:{customValues:[2,4,6], length:15},
  name:'ssGSEA Score', nameGap:53, nameTextStyle:{fontSize:29}});
violin(xA2, yA2, 1, javNoDensity, javNoQuartiles, javNo, 30, blueFill, blueStroke);
violin(xA2, yA2, 2, javYesDensity, javYesQuartiles, javYes, 29, redFill, redStroke);
counts(xA2, yA2, javCounts, 141, 18);

// ======================= PANEL B =======================
T(712, 24, 'B', {fontSize:37, fontWeight:'bold'});
const gB = G(766, 70, 359, 391, {show:true, borderColor:'#000', borderWidth:2, backgroundColor:'transparent'});
const xB = X({gridIndex:gB, min:0, max:20, interval:5, axisLabel:{fontSize:26, margin:19}, axisTick:{length:12},
  name:'CD8 IHC Score', nameGap:53, nameTextStyle:{fontSize:26}});
const yB = Y({gridIndex:gB, min:2, max:8, interval:2, axisLabel:{fontSize:26, margin:18}, axisTick:{length:13},
  name:'{a|T}{s|eff}', nameGap:40, nameTextStyle:{rich:subRich(27, 19)}});
const yB2 = Y({gridIndex:gB, position:'right', min:2, max:8, interval:2, axisLabel:{fontSize:26, fontWeight:'bold', margin:14}, axisTick:{length:12},
  name:'Javelin', nameRotate:-90, nameGap:48, nameTextStyle:{fontSize:26}});
band(xB, yB, bTeffBand, 'rgba(120,120,120,0.92)', 2);
band(xB, yB2, bJavBand, 'rgba(228,110,92,0.8)', 2);
lineS(xB, yB, bTeffBand.map(r => [r[0], r[1]]), '#000', 1.2, 'dashed');
lineS(xB, yB, bTeffBand.map(r => [r[0], r[2]]), '#000', 1.2, 'dashed');
lineS(xB, yB2, bJavBand.map(r => [r[0], r[1]]), '#e02a1a', 1.2, 'dashed');
lineS(xB, yB2, bJavBand.map(r => [r[0], r[2]]), '#e02a1a', 1.2, 'dashed');
option.series.push({type:'scatter', xAxisIndex:xB, yAxisIndex:yB, silent:true, z:5, data:bPoints.map(p => [p[0], p[1]]),
  symbol:'circle', symbolSize:7, itemStyle:{color:'rgba(255,255,255,0)', borderColor:'#000', borderWidth:1.5}});
option.series.push({type:'scatter', xAxisIndex:xB, yAxisIndex:yB2, silent:true, z:5, data:bPoints.map(p => [p[0], p[2]]),
  symbol:'rect', symbolSize:6.5, itemStyle:{color:'rgba(255,255,255,0)', borderColor:'#e02a1a', borderWidth:1.4}});
lineS(xB, yB, bTeffFit, '#000', 1.5, 'solid', {name:'Teff', symbol:'emptyCircle', symbolSize:8, showSymbol:false, z:6});
lineS(xB, yB2, bJavFit, '#e02a1a', 1.5, 'solid', {name:'Javelin', symbol:'emptyRect', symbolSize:8, showSymbol:false, z:6});
option.legend.push({data:['Teff','Javelin'], left:813, top:28, itemWidth:37, itemHeight:13, itemGap:32, selectedMode:false,
  formatter:n => n === 'Teff' ? '{a|T}{s|eff}' : '{a|' + n + '}',
  textStyle:{padding:[0,0,0,12], rich:subRich(27, 19)}});
T(790, 91, bTeffStats[0], {fontSize:26, align:'left'});
T(773, 123, '{n|' + bTeffStats[1] + '}{i|E}{n|' + bTeffStats[2] + '}', {align:'left', rich:pRich(26, '#000')});
T(943, 354, bJavStats[0], {fontSize:26, align:'left', fill:'#e02a1a'});
T(943, 386, '{n|' + bJavStats[1] + '}{i|E}{n|' + bJavStats[2] + '}', {align:'left', rich:pRich(26, '#e02a1a')});

// ======================= PANEL C =======================
T(1255, 21, 'C', {fontSize:37, fontWeight:'bold'});
T(1445, 73, 'Mann-Whitney', {fontSize:22});
T(1445, 98, 'p = 0.1453', {fontSize:22});
const gC = G(1352, 106, 185, 336);
const xC = catX(gC, 0.393, 2.595, recurrence, {axisLabel:{fontSize:26, margin:20}, axisTick:{length:13},
  name:'Recurrence', nameGap:58, nameTextStyle:{fontSize:26}});
const yC = Y({gridIndex:gC, type:'log', logBase:10, min:0.001, max:100, splitNumber:10, axisLabel:{formatter:logFmt, fontSize:24, margin:19}, axisTick:{length:13},
  minorTick:{show:false}, name:'{a|Log}{s|10}{a| CD8 IHC}', nameGap:80, nameTextStyle:{rich:subRich(26, 18)}});
boxes(xC, yC, cBoxes.map((b, i) => [i + 1].concat(b)), ['#93bfec', '#b45b5f'], 62, 33);
outliers(xC, yC, cOutliers, 8);
counts(xC, yC, cCounts, 135, 17);

// ======================= PANEL D =======================
T(52, 607, 'D', {fontSize:36, fontWeight:'bold'});
T(427, 616, 'PROTECT', {fontSize:39, fontWeight:'bold'});
const dColors = ['#e8231f', '#74c043', '#1d4ef2'];
const dColorMap = {Desert:dColors[0], Excluded:dColors[1], Inflammed:dColors[2]};
const gD = G(249, 691, 401, 268);
const xD = X({gridIndex:gD, min:0, max:65, axisLabel:{customValues:dRiskTimes, fontSize:21, margin:15}, axisTick:{customValues:dRiskTimes, length:10},
  name:'DFS (Months)', nameGap:44, nameTextStyle:{fontSize:22}});
const xD2 = X({gridIndex:gD, position:'bottom', min:0, max:65, axisLine:{show:false}, axisLabel:{show:false}, axisTick:{customValues:[10,30,50], length:6, lineStyle:{width:1.5}}});
const yD = Y({gridIndex:gD, min:0, max:1.1, axisLabel:{customValues:[0,0.5,1], formatter:v => (+v).toFixed(1), fontSize:21, margin:14}, axisTick:{customValues:[0,0.5,1], length:10},
  name:'Survival Probability', nameGap:55, nameTextStyle:{fontSize:21}});
const yD2 = Y({gridIndex:gD, position:'left', min:0, max:1.1, axisLine:{show:false}, axisLabel:{show:false}, axisTick:{customValues:[0.25,0.75], length:6, lineStyle:{width:1.5}}});
[[dExcluded, 1], [dDesert, 0], [dInflammed, 2]].forEach(([curve, i]) => {
  option.series.push({type:'line', name:dGroups[i], xAxisIndex:xD, yAxisIndex:yD, data:curve, step:'end', symbol:'none', silent:true,
    lineStyle:{color:dColors[i], width:2}, itemStyle:{color:dColors[i]}, z:3 + (i === 2 ? 1 : 0)});
});
[[dDesertCensor, 0], [dExcludedCensor, 1], [dInflammedCensor, 2]].forEach(([pts, i]) => {
  option.series.push({type:'scatter', xAxisIndex:xD, yAxisIndex:yD, data:pts, symbol:'rect', symbolSize:[2, 9], symbolOffset:[0, -4], silent:true,
    itemStyle:{color:dColors[i]}, z:5});
});
const tickIcon = 'path://M0,8H14V1H16V8H30V10H0Z';
option.legend.push({data:dGroups.map(n => ({name:n, icon:tickIcon})), left:217, top:651, itemWidth:28, itemHeight:11, itemGap:17, selectedMode:false,
  textStyle:{fontSize:22, fontFamily:FONT, color:'#000', padding:[0,0,0,10]}});
T(271, 908, 'Logrank  p = 0.1603', {fontSize:21, align:'left'});
T(220, 1019, 'Number at risk', {fontSize:18, align:'left'});
const gDt = G(222, 1033, 431, 79);
const xDt = X({gridIndex:gDt, min:-4.35, max:65.2, axisTick:{show:false}, axisLabel:{show:false}});
const yDt = Y({gridIndex:gDt, type:'category', data:dGroups.slice().reverse(), axisTick:{alignWithLabel:true, length:7, interval:0},
  axisLabel:{interval:0, fontSize:20, margin:12, color:v => dColorMap[v]}});
option.series.push({type:'scatter', xAxisIndex:xDt, yAxisIndex:yDt, symbolSize:1, silent:true, itemStyle:{color:'rgba(0,0,0,0)'},
  data:dRisk.flatMap((row, r) => row.map((v, j) => [dRiskTimes[j], 2 - r, v])),
  label:{show:true, position:'inside', formatter:p => String(p.value[2]), fontSize:20, fontFamily:FONT, color:'#000'}});

// ======================= PANEL E =======================
T(864, 597, 'E', {fontSize:36, fontWeight:'bold'});
T(1218, 613, 'MOFFITT', {fontSize:39, fontWeight:'bold'});
const eColors = ['#e57373', '#4dba4d', '#7ea7f5'];
const eColorMap = {'CD8+ Desert':eColors[0], 'CD8+ Excluded':eColors[1], 'CD8+ Inflamed':eColors[2]};
const eGray = {color:'#333', width:1.5};
const gE = G(1011, 697, 421, 267);
const xE = X({gridIndex:gE, min:-4.2, max:94.5, axisLine:{lineStyle:eGray}, axisTick:{customValues:eRiskTimes, length:4, lineStyle:{color:'#333', width:1}},
  axisLabel:{customValues:eRiskTimes, fontSize:14, color:'#4d4d4d', margin:6}, name:'Time (months)', nameGap:25, nameTextStyle:{fontSize:16}});
const yE = Y({gridIndex:gE, min:-0.05, max:1.054, axisLine:{lineStyle:eGray}, axisTick:{customValues:eYTicks, length:4, lineStyle:{color:'#333', width:1}},
  axisLabel:{customValues:eYTicks, formatter:v => (+v).toFixed(2), fontSize:14, color:'#4d4d4d', margin:7},
  name:'Recurrence Probability', nameGap:110, nameTextStyle:{fontSize:16}});
[[eDesert, 0], [eExcluded, 1], [eInflamed, 2]].forEach(([curve, i]) => {
  option.series.push({type:'line', name:eGroups[i], xAxisIndex:xE, yAxisIndex:yE, data:curve, step:'end', symbol:'none', silent:true,
    lineStyle:{color:eColors[i], width:2.4}, itemStyle:{color:eColors[i]}, z:3});
});
option.legend.push({data:eGroups, icon:'rect', left:1068, top:660, itemWidth:17, itemHeight:3, itemGap:8, selectedMode:false,
  textStyle:{fontSize:12, fontFamily:FONT, color:'#333', padding:[0,0,0,2]}});
T(1029, 930, 'p = 0.23', {fontSize:17, align:'left'});
T(1011, 1029, 'Number at risk', {fontSize:18, align:'left'});
const gEt = G(1011, 1047, 421, 42);
const xEt = X({gridIndex:gEt, min:-4.2, max:94.5, axisLine:{lineStyle:{color:'#666', width:2.5}}, axisTick:{customValues:eRiskTimes, length:4, lineStyle:{color:'#333', width:1}},
  axisLabel:{customValues:eRiskTimes, fontSize:14, color:'#4d4d4d', margin:6}, name:'Time (months)', nameGap:24, nameTextStyle:{fontSize:16}});
const yEt = Y({gridIndex:gEt, type:'category', data:eGroups.slice().reverse(), axisLine:{lineStyle:eGray}, axisTick:{alignWithLabel:true, interval:0, length:4, lineStyle:{color:'#333', width:1}},
  axisLabel:{interval:0, fontSize:14, margin:7, color:v => eColorMap[v]}});
option.series.push({type:'scatter', xAxisIndex:xEt, yAxisIndex:yEt, symbolSize:1, silent:true, itemStyle:{color:'rgba(0,0,0,0)'},
  data:eRisk.flatMap((row, r) => row.map((v, j) => [eRiskTimes[j], 2 - r, v])),
  label:{show:true, position:'inside', formatter:p => String(p.value[2]), fontSize:14, fontFamily:FONT, color:'#222'}});

// ======================= PANEL F =======================
T(83, 1176, 'F', {fontSize:36, fontWeight:'bold'});
T(283, 1187, 'ImmuneCheckpoint', {fontSize:30, fontWeight:'bold'});
T(283, 1220, 'Mann-Whitney', {fontSize:22});
T(283, 1245, 'p = 0.5269', {fontSize:22});
const gF = G(191, 1238, 184, 323);
const xF = catX(gF, 0.32, 2.68, recurrence, {axisLabel:{fontSize:24, margin:20}, axisTick:{length:13},
  name:'Recurrence', nameGap:56, nameTextStyle:{fontSize:26}});
const yF = Y({gridIndex:gF, min:-5000, max:7000, axisLabel:{customValues:[-5000,0,5000], fontSize:24, margin:18}, axisTick:{customValues:[-5000,0,5000], length:14},
  name:'ssGSEA Score', nameGap:96, nameTextStyle:{fontSize:26}});
violin(xF, yF, 1, icNoDensity, icNoQuartiles, icNo, 25, blueFill, blueStroke);
violin(xF, yF, 2, icYesDensity, icYesQuartiles, icYes, 24, redFill, redStroke);
counts(xF, yF, icCounts, 1276, 16);

// ======================= PANEL G =======================
T(493, 1173, 'G', {fontSize:36, fontWeight:'bold'});
T(691, 1189, 'Mann-Whitney', {fontSize:22});
T(691, 1215, 'p = 0.4309', {fontSize:22});
const gG = G(598, 1215, 183, 330);
const xG = catX(gG, 0.4, 2.6, recurrence, {axisLabel:{fontSize:24, margin:20}, axisTick:{length:13},
  name:'Recurrence', nameGap:57, nameTextStyle:{fontSize:26}});
const yG = Y({gridIndex:gG, type:'log', logBase:10, min:0.0001, max:1000, splitNumber:10, axisLabel:{formatter:logFmt, fontSize:24, margin:16}, axisTick:{length:12},
  minorTick:{show:false}, name:'{a|Log}{s|10}{a| TIM3 IHC Score}', nameGap:90, nameTextStyle:{rich:subRich(26, 18)}});
boxes(xG, yG, gBoxes.map((b, i) => [i + 1].concat(b)), ['#93bfec', '#b45b5f'], 61, 33);
outliers(xG, yG, gOutliers, 8);
counts(xG, yG, gCounts, 1252, 16);

// ======================= PANEL H =======================
T(875, 1173, 'H', {fontSize:36, fontWeight:'bold'});
T(1061, 1182, 'Mann-Whitney', {fontSize:21});
T(1061, 1205, 'p = 0.0734', {fontSize:21});
const gH = G(973, 1233, 172, 312);
const xH = catX(gH, 0.4, 2.6, recurrence, {axisLabel:{fontSize:24, margin:20}, axisTick:{length:13},
  name:'Recurrence', nameGap:55, nameTextStyle:{fontSize:26}});
const yH = Y({gridIndex:gH, type:'log', logBase:10, min:0.0001, max:10, splitNumber:10, axisLabel:{formatter:logFmt, fontSize:24, margin:18}, axisTick:{length:12},
  minorTick:{show:false}, name:'{a|Log}{s|10}{a| LAG3 IHC Score}', nameGap:87, nameTextStyle:{rich:subRich(26, 18)}});
boxes(xH, yH, hBoxes.map((b, i) => [i + 1].concat(b)), ['#93bfec', '#b45b5f'], 57, 34);
outliers(xH, yH, hOutliers, 8);
counts(xH, yH, hCounts, 1240, 16);

// ======================= PANEL I =======================
T(1209, 1173, 'I', {fontSize:36, fontWeight:'bold'});
T(1317, 1192, pdl1N[0], {fontSize:15});
T(1470, 1192, pdl1N[1], {fontSize:15});
T(1426, 1253, 'p = 0.6425', {fontSize:25});
const gI = G(1285, 1229, 276, 315);
const xI = catX(gI, 0.33, 2.67, recurrence, {axisLabel:{fontSize:24, margin:19}, axisTick:{length:14},
  name:'Recurrence', nameGap:56, nameTextStyle:{fontSize:26}});
const yI = Y({gridIndex:gI, min:0, max:125, axisLabel:{customValues:[0,50,100], fontSize:24, margin:13}, axisTick:{customValues:[0,50,100], length:14},
  name:'Percent of cases', nameGap:68, nameTextStyle:{fontSize:26}});
stackBars(xI, yI, 'PDL1-', pdl1Neg, [0, 0], '#4b6cad', '#1d2b52', '#fff', 77);
stackBars(xI, yI, 'PDL1+', pdl1Pos, pdl1Neg, '#bfa985', '#4a4a4a', '#000', 77);
option.legend.push({data:['PDL1+','PDL1-'], icon:'rect', left:1299, top:1198, itemWidth:35, itemHeight:20, itemGap:17, selectedMode:false,
  textStyle:{fontSize:26, fontFamily:FONT, color:'#000', padding:[0,0,0,12]}});

// ======================= PANEL J =======================
T(70, 1678, 'J', {fontSize:36, fontWeight:'bold'});
const gJ = G(176, 1704, 311, 311, {show:true, borderColor:'#000', borderWidth:2, backgroundColor:'transparent'});
const xJ = X({gridIndex:gJ, min:2.3, max:7, axisLabel:{customValues:jXTicks, fontSize:24, margin:18}, axisTick:{customValues:jXTicks, length:12},
  name:'{a|T}{s|eff}{a| Score}', nameGap:48, nameTextStyle:{rich:subRich(25, 18)}});
const yJ = Y({gridIndex:gJ, min:-5000, max:5000, interval:2500, axisLabel:{fontSize:24, margin:16}, axisTick:{length:14},
  name:'ImmuneCheckpoint', nameGap:76, nameTextStyle:{fontSize:25}});
option.series.push({type:'scatter', xAxisIndex:xJ, yAxisIndex:yJ, data:jPoints, symbol:'circle', symbolSize:7, silent:true, itemStyle:{color:'#000'}, z:3});
band(xJ, yJ, jBand, 'rgba(226,96,78,0.62)', 4);
lineS(xJ, yJ, jBand.map(r => [r[0], r[1]]), '#d8261c', 1.2, 'dashed', {z:5});
lineS(xJ, yJ, jBand.map(r => [r[0], r[2]]), '#d8261c', 1.2, 'dashed', {z:5});
lineS(xJ, yJ, jFit, '#d8261c', 1.5, 'solid', {z:6});
T(336, 1962, jStats[0], {fontSize:24, align:'left'});
T(336, 1993, '{n|' + jStats[1] + '}{i|E}{n|' + jStats[2] + '}', {align:'left', rich:pRich(24, '#000')});

// ======================= PANEL K =======================
T(525, 1678, 'K', {fontSize:36, fontWeight:'bold'});
const gK = G(612, 1704, 311, 312, {show:true, borderColor:'#000', borderWidth:2, backgroundColor:'transparent'});
const xK = X({gridIndex:gK, min:-5000, max:10000, interval:5000, axisLabel:{fontSize:24, margin:18}, axisTick:{length:12},
  name:'MSKI Score', nameGap:52, nameTextStyle:{fontSize:25}});
const yK = Y({gridIndex:gK, min:-5000, max:5000, interval:5000, axisLabel:{fontSize:24, margin:16}, axisTick:{length:14},
  name:'ImmuneCheckpoint', nameGap:66, nameTextStyle:{fontSize:25}});
const kMinorTicks = [];
for (let v = -4500; v <= 4500; v += 500) { if (v % 5000 !== 0) kMinorTicks.push(v); }
const yK2 = Y({gridIndex:gK, position:'left', min:-5000, max:5000, axisLine:{show:false}, axisLabel:{show:false},
  axisTick:{customValues:kMinorTicks, length:7, lineStyle:{color:'#000', width:1.5}}});
option.series.push({type:'scatter', xAxisIndex:xK, yAxisIndex:yK, data:kPoints, symbol:'circle', symbolSize:7, silent:true, itemStyle:{color:'#000'}, z:3});
band(xK, yK, kBand, 'rgba(226,96,78,0.62)', 4);
lineS(xK, yK, kBand.map(r => [r[0], r[1]]), '#d8261c', 1.2, 'dashed', {z:5});
lineS(xK, yK, kBand.map(r => [r[0], r[2]]), '#d8261c', 1.2, 'dashed', {z:5});
lineS(xK, yK, kFit, '#d8261c', 1.5, 'solid', {z:6});
T(796, 1970, kStats[0], {fontSize:24, align:'left'});
T(796, 2000, kStats[1], {fontSize:24, align:'left'});

// ======================= PANEL L =======================
T(967, 1681, 'L', {fontSize:36, fontWeight:'bold'});
const lColors = ['#8dd3f8', '#7cc75a', '#e9b948', '#e05b2c'];
const gL = G(1094, 1763, 305, 306);
const xL = X({gridIndex:gL, min:0.43, max:4.57, axisTick:{show:false}, axisLabel:{show:false}});
const yL = Y({gridIndex:gL, min:-6000, max:6000, interval:3000, axisLabel:{fontSize:24, margin:17}, axisTick:{length:12},
  name:'ImmuneCheckpoint Score', nameGap:89, nameTextStyle:{fontSize:24}});
lBoxes.forEach((b, i) => boxes(xL, yL, [[i + 1].concat(b)], [lColors[i]], 59, 32, lGroups[i]));
option.series.push({type:'custom', xAxisIndex:xL, yAxisIndex:yL, clip:false, silent:true, z:6,
  data:lOutliers.map((o, i) => [i + 1, 0]),
  renderItem(params, api) {
    const c = api.value(0);
    const vals = lOutliers[params.dataIndex];
    const x = api.coord([c, 0])[0];
    const ys = vals.map(v => api.coord([c, v])[1]);
    const offs = swarm(ys, 18);
    return {type:'group', children:ys.map((y, i) => ({type:'circle', shape:{cx:x + offs[i], cy:y, r:4.6},
      style:{fill:'#fff', stroke:'#000', lineWidth:1.6}}))};
  }});
counts(xL, yL, lCounts, 2040, 19);
const bracketLayout = [[1706, 1745, 1726], [1736, 1742, 1812], [1766, 1867, 1775], [1795, 1860, 1797]];
option.series.push({type:'custom', xAxisIndex:xL, yAxisIndex:yL, clip:false, silent:true, z:7,
  data:lComparisons.map(c => [c[0], c[1]]),
  renderItem(params, api) {
    const cmp = lComparisons[params.dataIndex];
    const lay = bracketLayout[params.dataIndex];
    const x1 = api.coord([cmp[0], 0])[0], x2 = api.coord([cmp[1], 0])[0];
    return {type:'group', children:[
      {type:'polyline', shape:{points:[[x1, lay[1]], [x1, lay[0]], [x2, lay[0]], [x2, lay[2]]]}, style:{stroke:'#000', lineWidth:1.6, fill:null}},
      {type:'text', x:(x1 + x2) / 2 + (params.dataIndex === 0 ? 13 : params.dataIndex === 1 ? 3 : params.dataIndex === 2 ? -4 : 10), y:lay[0] - 1,
        style:{text:'{n|' + cmp[2] + '}{i|E}{n|' + cmp[3] + '}', rich:pRich(20, '#000'), align:'center', verticalAlign:'bottom', textAlign:'center', textVerticalAlign:'bottom'}}
    ]};
  }});
option.legend.push({data:lGroups, icon:'rect', orient:'vertical', left:1417, top:1799, itemWidth:32, itemHeight:18, itemGap:13, selectedMode:false,
  formatter:n => { const p = n.split(' '); return '{t|T}{s|eff}{u|' + p[1] + '}{t|MSKI}{u|' + p[3] + '}'; },
  textStyle:{padding:[0,0,0,13], rich:{
    t:{fontSize:26, fontFamily:FONT, color:'#000', lineHeight:30},
    s:{fontSize:18, fontFamily:FONT, color:'#000', lineHeight:12, verticalAlign:'bottom'},
    u:{fontSize:18, fontFamily:FONT, color:'#000', lineHeight:12, verticalAlign:'top'}}}});

const chart = echarts.init(document.getElementById('chart'), null, {renderer:'canvas', width:1591, height:2100});
chart.setOption(option);
</script>
</body>
</html>
